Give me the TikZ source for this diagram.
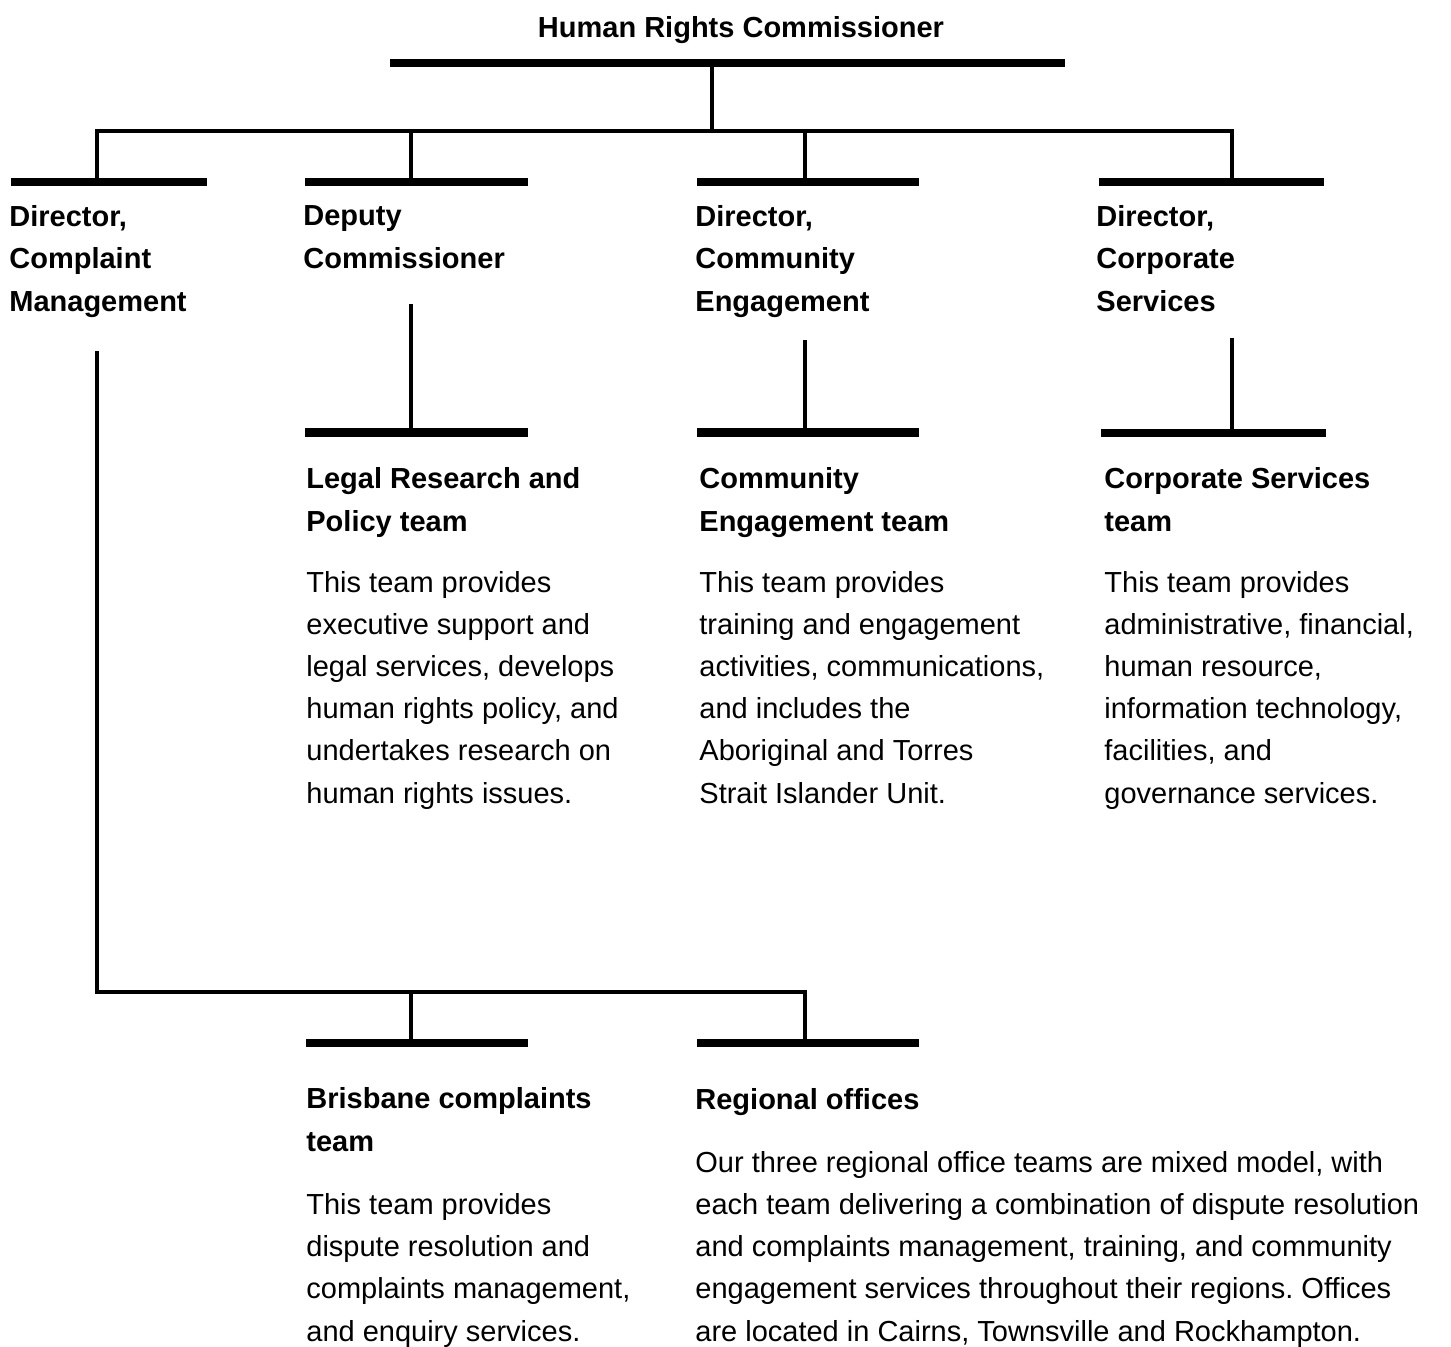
\documentclass[tikz,border=0pt]{standalone}
\usepackage{fontspec}
\setmainfont{Liberation Sans}
\frenchspacing
\begin{document}
\begin{tikzpicture}[x=0.5pt,y=-0.5pt,
  bar/.style={fill=black, draw=none, inner sep=0pt, minimum height=4.4pt},
  conn/.style={line width=1.6pt, line join=miter},
  hd/.style={font=\fontsize{14.5}{21.2}\selectfont\bfseries\frenchspacing, anchor=base west, inner sep=0pt, align=left},
  tx/.style={font=\fontsize{14.5}{21.1}\selectfont\frenchspacing, anchor=base west, inner sep=0pt, align=left}]
\useasboundingbox (0,0) rectangle (1451,1346);

% title
\node[hd, anchor=base] (hrc) at (741,37) {Human Rights Commissioner};

% coordinates for connectors
\coordinate (h0) at (712,131);
\coordinate (j1) at (97,131);
\coordinate (j2) at (411,131);
\coordinate (j3) at (805,131);
\coordinate (j4) at (1232,131);
\coordinate (k1) at (97,351);
\coordinate (k2) at (411,304);
\coordinate (k3) at (805,340);
\coordinate (k4) at (1232,338);
\coordinate (m1) at (97,992);
\coordinate (m2) at (411,992);
\coordinate (m3) at (805,992);

% bars
\node[bar, minimum width=337.5pt] (b0) at (727.5,63) {};
\node[bar, minimum width=98pt] (b1) at (109,182) {};
\node[bar, minimum width=111.5pt] (b2) at (416.5,182) {};
\node[bar, minimum width=111pt] (b3) at (808,182) {};
\node[bar, minimum width=112.5pt] (b4) at (1211.5,182) {};
\node[bar, minimum width=111.5pt] (c2) at (416.5,432.5) {};
\node[bar, minimum width=111pt] (c3) at (808,432.5) {};
\node[bar, minimum width=112.5pt] (c4) at (1213.5,433) {};
\node[bar, minimum width=111pt] (d1) at (417,1043) {};
\node[bar, minimum width=111pt] (d2) at (808,1043) {};

% connectors
\draw[conn] (h0 |- b0.center) -- (h0);
\draw[conn] (j1 |- b1.center) -- (j1) -- (j4) -- (j4 |- b4.center);
\draw[conn] (j2) -- (j2 |- b2.center);
\draw[conn] (j3) -- (j3 |- b3.center);
\draw[conn] (k2) -- (k2 |- c2.center);
\draw[conn] (k3) -- (k3 |- c3.center);
\draw[conn] (k4) -- (k4 |- c4.center);
\draw[conn] (k1) -- (m1) -- (m3) -- (m3 |- d2.center);
\draw[conn] (m2) -- (m2 |- d1.center);

% level 2 labels (anchored at the baseline of the last line)
\node[hd] (dcm) at (9,311) {Director,\\Complaint\\Management};
\node[hd] (dep) at (303,268) {Deputy\\Commissioner};
\node[hd] (dce) at (695,311) {Director,\\Community\\Engagement};
\node[hd] (dcs) at (1096,311) {Director,\\Corporate\\Services};

% level 3
\node[hd] (lrp) at (306,531) {Legal Research and\\Policy team};
\node[tx] (lrpt) at (306,803) {This team provides\\executive support and\\legal services, develops\\human rights policy, and\\undertakes research on\\human rights issues.};

\node[hd] (cet) at (699,531) {Community\\Engagement team};
\node[tx] (cett) at (699,803) {This team provides\\training and engagement\\activities, communications,\\and includes the\\Aboriginal and Torres\\Strait Islander Unit.};

\node[hd] (cst) at (1104,531) {Corporate Services\\team};
\node[tx] (cstt) at (1104,803) {This team provides\\administrative, financial,\\human resource,\\information technology,\\facilities, and\\governance services.};

% bottom
\node[hd] (bct) at (306,1151) {Brisbane complaints\\team};
\node[tx] (bctt) at (306,1341) {This team provides\\dispute resolution and\\complaints management,\\and enquiry services.};

\node[hd] (reg) at (695,1109) {Regional offices};
\node[tx] (regt) at (695,1341) {Our three regional office teams are mixed model, with\\each team delivering a combination of dispute resolution\\and complaints management, training, and community\\engagement services throughout their regions. Offices\\are located in Cairns, Townsville and Rockhampton.};
\end{tikzpicture}
\end{document}
